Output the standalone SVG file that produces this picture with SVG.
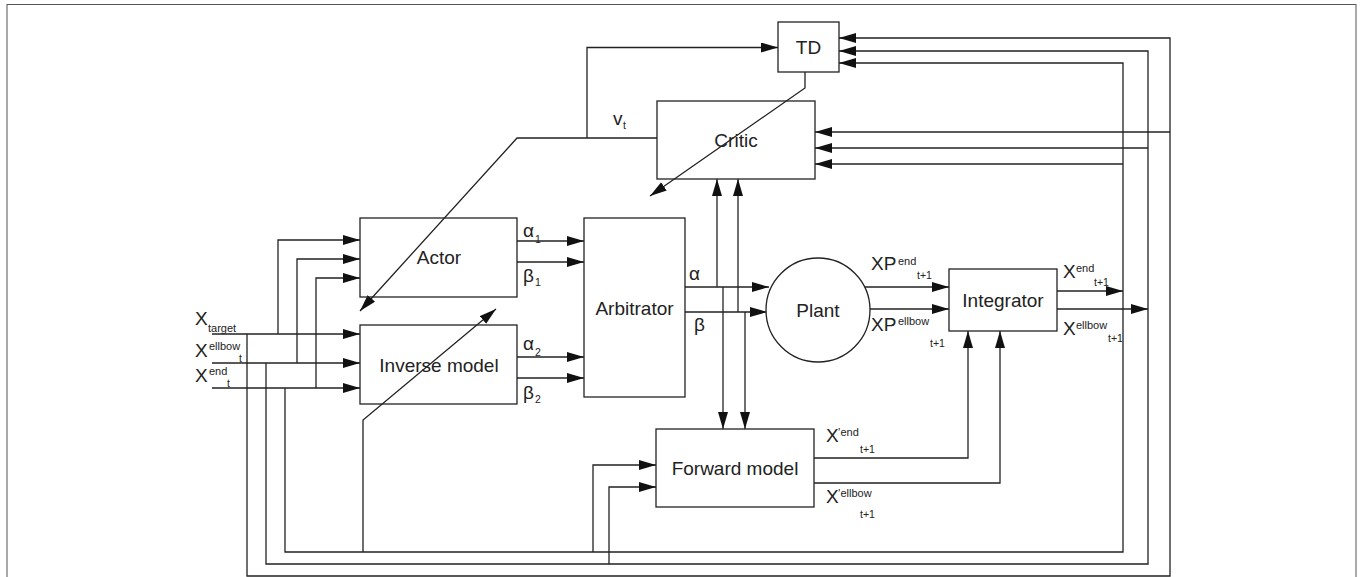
<svg xmlns="http://www.w3.org/2000/svg" width="1362" height="577" viewBox="0 0 1362 577">
<defs>
<marker id="ah" markerUnits="userSpaceOnUse" markerWidth="18" markerHeight="12" refX="17" refY="5" orient="auto">
<path d="M0,0 L17,5 L0,10 z" fill="#111"/>
</marker>
<style>
.box{fill:#fff;stroke:#222;stroke-width:1.3}
.ln{fill:none;stroke:#222;stroke-width:1.3}
.ar{fill:none;stroke:#222;stroke-width:1.3;marker-end:url(#ah)}
text{font-family:"Liberation Sans",Arial,sans-serif;fill:#222}
.lbl{font-size:19px}
.big{font-size:19px}
.sup{font-size:11px}
.sub{font-size:10.5px}
.mid{text-anchor:middle}
</style>
</defs>
<rect x="7" y="4.5" width="1349" height="580" fill="#fff" stroke="#555" stroke-width="1"/>

<g id="connectors">
<!-- left inputs -->
<path class="ar" d="M212,334 H360"/>
<path class="ar" d="M212,363 H360"/>
<path class="ar" d="M212,388 H360"/>
<path class="ar" d="M278,334 V240 H360"/>
<path class="ar" d="M297,363 V259 H360"/>
<path class="ar" d="M316,388 V278 H360"/>
<!-- feedback loops -->
<path class="ar" d="M247,334 V576 H1170 V38 H839"/>
<path class="ar" d="M1170,132 H815"/>
<path class="ar" d="M266,363 V564 H1148 V51 H839"/>
<path class="ar" d="M1148,148 H815"/>
<path class="ar" d="M285,388 V552 H1123 V63 H839"/>
<path class="ar" d="M1123,164 H815"/>
<!-- actor / inverse outputs -->
<path class="ar" d="M517,241 H584"/>
<path class="ar" d="M517,262 H584"/>
<path class="ar" d="M517,357 H584"/>
<path class="ar" d="M517,378 H584"/>
<!-- arbitrator outputs -->
<path class="ar" d="M685,287 H769"/>
<path class="ar" d="M685,312 H767"/>
<path class="ar" d="M717,287 V179"/>
<path class="ar" d="M738,312 V179"/>
<path class="ar" d="M723,287 V429"/>
<path class="ar" d="M745,312 V429"/>
<!-- critic v_t -->
<path class="ar" d="M657,138 H517 L360,311"/>
<path class="ar" d="M587,138 V47.5 H778"/>
<!-- TD output -->
<path class="ar" d="M805,72 V88 L650,196"/>
<!-- inverse diag -->
<path class="ar" d="M363,552 V420 L496,309"/>
<!-- forward model inputs -->
<path class="ar" d="M593,552 V465 H656"/>
<path class="ar" d="M609,564 V487 H656"/>
<!-- forward model outputs -->
<path class="ar" d="M814,458 H968 V331"/>
<path class="ar" d="M814,483 H1000 V331"/>
<!-- plant outputs -->
<path class="ar" d="M864,287 H949"/>
<path class="ar" d="M869,309 H949"/>
<!-- integrator outputs -->
<path class="ar" d="M1057,291 H1123"/>
<path class="ar" d="M1057,309 H1148"/>
</g>

<g id="td"><rect class="box" x="778" y="22" width="61" height="50"/><text class="big mid" x="808.5" y="54">TD</text></g>
<g id="critic"><rect class="box" x="657" y="101" width="158" height="78" fill-opacity="0"/><text class="big mid" x="736" y="147">Critic</text></g>
<g id="actor"><rect class="box" x="360" y="218" width="157" height="79" fill-opacity="0"/><text class="big mid" x="439" y="264">Actor</text></g>
<g id="inverse-model"><rect class="box" x="360" y="325" width="157" height="79" fill-opacity="0"/><text class="big mid" x="439" y="371.5">Inverse model</text></g>
<g id="arbitrator"><rect class="box" x="584" y="218" width="101" height="179"/><text class="big mid" x="634.5" y="314.5">Arbitrator</text></g>
<g id="plant"><circle class="box" cx="818" cy="310" r="52"/><text class="big mid" x="818" y="316.5">Plant</text></g>
<g id="integrator"><rect class="box" x="949" y="269" width="108" height="62"/><text class="big mid" x="1003" y="307">Integrator</text></g>
<g id="forward-model"><rect class="box" x="656" y="429" width="158" height="78"/><text class="big mid" x="735" y="475">Forward model</text></g>

<g id="labels">
<text class="big" x="195" y="325">X</text><text class="sup" x="208" y="332">target</text>
<text class="big" x="195" y="357">X</text><text class="sup" x="209" y="350">ellbow</text><text class="sub" x="239" y="362">t</text>
<text class="big" x="195" y="382">X</text><text class="sup" x="209" y="375">end</text><text class="sub" x="227" y="387">t</text>
<text class="big" x="523" y="237">α</text><text class="sub" x="535" y="243">1</text>
<text class="big" x="523" y="282">β</text><text class="sub" x="535" y="286">1</text>
<text class="big" x="523" y="350">α</text><text class="sub" x="535" y="356">2</text>
<text class="big" x="523" y="399">β</text><text class="sub" x="535" y="403">2</text>
<text class="big" x="689" y="280">α</text>
<text class="big" x="694" y="331">β</text>
<text class="big" x="613" y="125">v</text><text class="sub" x="623" y="129">t</text>
<text class="big" x="871" y="270">XP</text><text class="sup" x="898" y="265">end</text><text class="sub" x="917" y="279">t+1</text>
<text class="big" x="871" y="331">XP</text><text class="sup" x="898" y="325">ellbow</text><text class="sub" x="930" y="346.5">t+1</text>
<text class="big" x="1063" y="278">X</text><text class="sup" x="1076" y="271.5">end</text><text class="sub" x="1094" y="286">t+1</text>
<text class="big" x="1063" y="335">X</text><text class="sup" x="1076" y="329">ellbow</text><text class="sub" x="1108" y="341.5">t+1</text>
<text class="big" x="826" y="442">X</text><text class="sup" x="838" y="436">ʼend</text><text class="sub" x="860" y="453">t+1</text>
<text class="big" x="826" y="503">X</text><text class="sup" x="838" y="497">ʼellbow</text><text class="sub" x="860" y="518">t+1</text>
</g>
</svg>
